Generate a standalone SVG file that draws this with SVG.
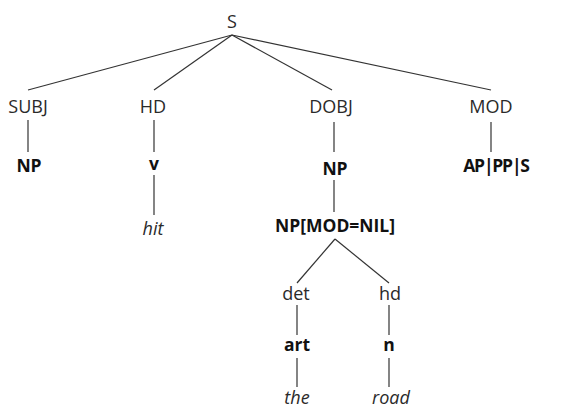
<svg xmlns="http://www.w3.org/2000/svg" width="564" height="406" viewBox="0 0 564 406">
<style>
text{font-family:"Open Sans","Noto Sans","Liberation Sans",sans-serif;font-size:18px;text-anchor:middle;fill:#2a2a2a}
.b{font-weight:bold;fill:#111;font-size:17.5px}
.i{font-style:italic}
.c line{stroke:#333;stroke-width:1.2}
</style>
<rect width="564" height="406" fill="#fff"/>
<g class="c" id="connectors">
<line x1="232" y1="35" x2="28" y2="90"/>
<line x1="232" y1="35" x2="154" y2="90"/>
<line x1="232" y1="35" x2="332" y2="90"/>
<line x1="232" y1="35" x2="491" y2="90"/>
<line x1="28" y1="120" x2="28" y2="152"/>
<line x1="154" y1="120" x2="154" y2="152"/>
<line x1="154" y1="175" x2="154" y2="215"/>
<line x1="334" y1="122" x2="334" y2="152"/>
<line x1="334" y1="180" x2="334" y2="212"/>
<line x1="491" y1="122" x2="491" y2="152"/>
<line x1="335" y1="239" x2="297" y2="283"/>
<line x1="335" y1="239" x2="389" y2="283"/>
<line x1="297" y1="305" x2="297" y2="335"/>
<line x1="297" y1="358" x2="297" y2="387"/>
<line x1="389" y1="305" x2="389" y2="335"/>
<line x1="389" y1="358" x2="389" y2="387"/>
</g>
<g id="S"><text x="232" y="28">S</text></g>
<g id="SUBJ"><text x="28" y="113">SUBJ</text></g>
<g id="HD"><text x="153" y="113">HD</text></g>
<g id="DOBJ"><text x="331" y="113">DOBJ</text></g>
<g id="MOD"><text x="491" y="113">MOD</text></g>
<g id="NP-subj"><text class="b" x="29" y="172">NP</text></g>
<g id="v"><text class="b" x="154" y="170">v</text></g>
<g id="hit"><text class="i" x="153" y="235">hit</text></g>
<g id="NP-dobj"><text class="b" x="335" y="175">NP</text></g>
<g id="NP-mod-nil"><text class="b" x="335" y="232">NP[MOD=NIL]</text></g>
<g id="AP-PP-S"><text class="b" x="496" y="172" letter-spacing="-1.2">AP|PP|S</text></g>
<g id="det"><text x="296" y="300">det</text></g>
<g id="hd"><text x="390" y="300">hd</text></g>
<g id="art"><text class="b" x="297" y="351">art</text></g>
<g id="n"><text class="b" x="389" y="351">n</text></g>
<g id="the"><text class="i" x="297" y="404">the</text></g>
<g id="road"><text class="i" x="391" y="404">road</text></g>
</svg>
